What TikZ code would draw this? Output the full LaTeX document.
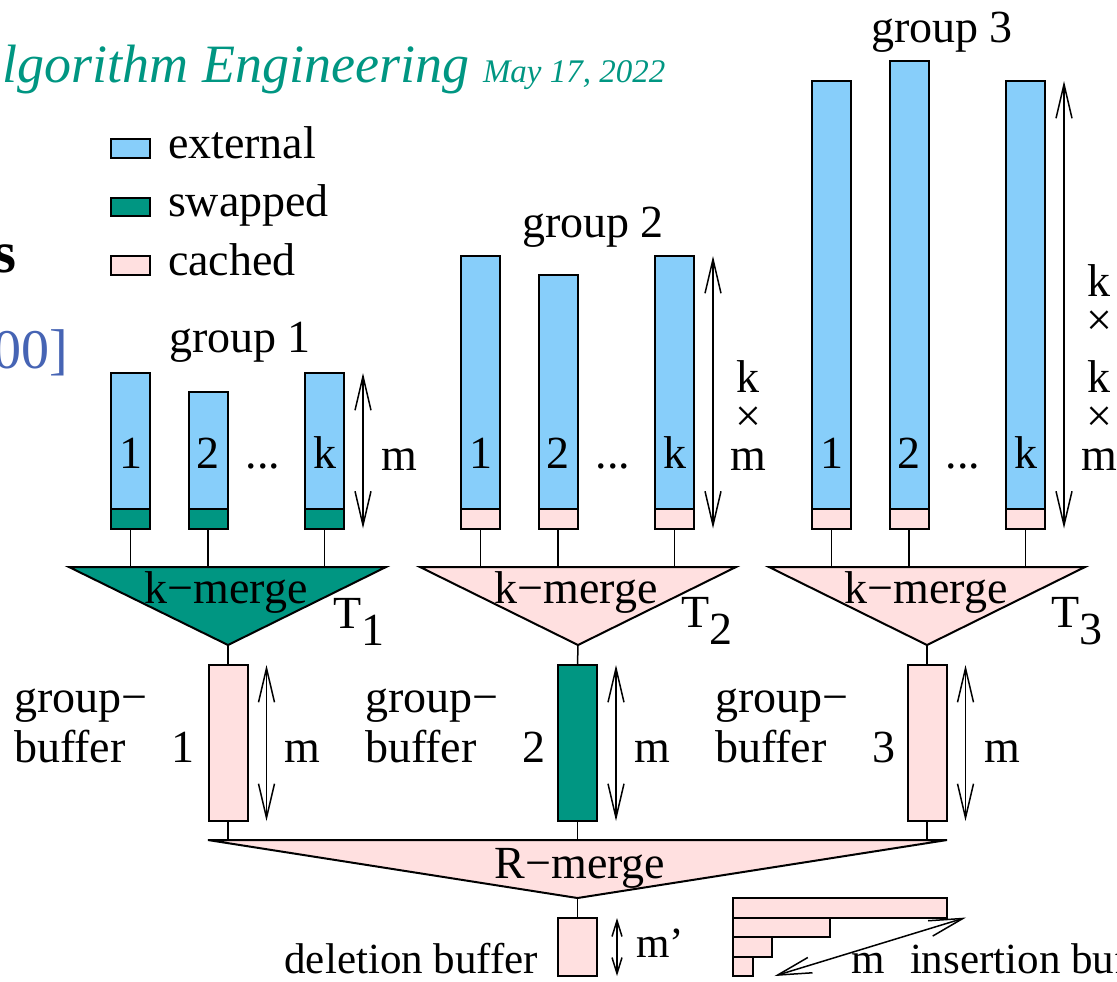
\documentclass[tikz,border=0pt]{standalone}
\usepackage{fontspec}
\setmainfont{Liberation Serif}
\usetikzlibrary{arrows.meta}
\definecolor{extblue}{RGB}{135,206,250}
\definecolor{swpgreen}{RGB}{0,150,130}
\definecolor{cchpink}{RGB}{255,224,224}
\definecolor{hdteal}{RGB}{0,150,130}
\definecolor{citeblue}{RGB}{70,100,180}

\begin{document}
\begin{tikzpicture}[
    x=0.5pt, y=-0.5pt,
    >={Straight Barb[length=17pt,width=8pt]},
    font=\fontsize{23}{25}\selectfont,
    inner sep=0pt, outer sep=0pt,
    ext/.style={draw, line width=1pt, fill=extblue, minimum width=19.5pt},
    swp/.style={draw, line width=1pt, fill=swpgreen, minimum width=19.5pt, minimum height=9.75pt},
    cch/.style={draw, line width=1pt, fill=cchpink, minimum width=19.5pt, minimum height=9.75pt},
    mrg/.style={draw, line width=1pt, line join=miter},
    wire/.style={line width=0.75pt},
    dim/.style={line width=0.75pt, <->},
    smalldim/.style={line width=0.75pt, {Straight Barb[length=8pt,width=5pt]}-{Straight Barb[length=8pt,width=5pt]}},
    stack/.style={align=center, anchor=south, font=\fontsize{23}{19.5}\selectfont},
    small/.style={font=\fontsize{21.5}{24}\selectfont},
    hdr/.style={text=hdteal, font=\fontsize{27}{30}\selectfont\itshape},
    hdrdate/.style={text=hdteal, font=\fontsize{16.5}{20}\selectfont\itshape}
]
\useasboundingbox (0,0) rectangle (1117,981);
\clip (0,0) rectangle (1117,981);

% slide header
\node[hdr, anchor=base east] (title) at (469,82) {lgorithm Engineering};
\node[hdrdate, anchor=base west] (date) at (483,82) {May 17, 2022};
\node[anchor=base east, font=\fontsize{29.5}{30}\selectfont\bfseries] (heaps) at (16,272) {s};
\node[anchor=base east, text=citeblue, font=\fontsize{28}{30}\selectfont] (cite) at (68,368) {00]};

% legend
\node[ext, minimum height=9.5pt] (lgext) at (130.5,148.5) {};
\node[swp, minimum height=9.25pt] (lgswp) at (130.5,207) {};
\node[cch, minimum height=9.5pt] (lgcch) at (130.5,265.5) {};
\node[anchor=base west] (txext) at (168,158) {external};
\node[anchor=base west] (txswp) at (168,216) {swapped};
\node[anchor=base west] (txcch) at (168,275) {cached};

% group 1
\node[anchor=base] (gr1) at (240,352) {group 1};
\node[ext, minimum height=68pt, anchor=south] (g1a) at (130.5,509) {};
\node[ext, minimum height=58.5pt, anchor=south] (g1b) at (208,509) {};
\node[ext, minimum height=68pt, anchor=south] (g1k) at (324.5,509) {};
\node[swp, anchor=north] (g1ab) at (g1a.south) {};
\node[swp, anchor=north] (g1bb) at (g1b.south) {};
\node[swp, anchor=north] (g1kb) at (g1k.south) {};
\node[anchor=base] (n1a) at (130.5,468) {1};
\node[anchor=base] (n1b) at (208,468) {2};
\node[anchor=base] (n1k) at (324.5,468) {k};
\node[anchor=base] (d1) at (263,468) {...};
\draw[dim] ([xshift=9.5pt]g1k.north east) -- ([xshift=9.5pt]g1kb.south east);
\node[anchor=base] (m1) at (399,470) {m};

\coordinate (t1l) at (69,567);
\coordinate (t1r) at (386,567);
\coordinate (t1b) at (228,645);
\draw[mrg, fill=swpgreen] (t1l) -- (t1r) -- (t1b) -- cycle;
\draw[wire] (g1ab.south) -- (g1ab.south |- t1l);
\draw[wire] (g1bb.south) -- (g1bb.south |- t1l);
\draw[wire] (g1kb.south) -- (g1kb.south |- t1l);
\node[anchor=base] (km1) at (226,603) {k−merge};
\node[anchor=base west] (T1) at (333,628) {T\raisebox{-0.37em}{1}};

\node[cch, minimum height=78pt, anchor=north] (gb1) at (228,665) {};
\draw[wire] (t1b) -- (gb1.north);
\draw[dim] ([xshift=9.5pt]gb1.north east) -- ([xshift=9.5pt]gb1.south east);
\node[anchor=base] (mb1) at (302,762) {m};
\node[anchor=base west] (gl1) at (14,712) {group−};
\node[anchor=base west] (bl1) at (14,762) {buffer\quad 1};

% group 2
\node[anchor=base] (gr2) at (593,237) {group 2};
\node[ext, minimum height=126.5pt, anchor=south] (g2a) at (480.5,509) {};
\node[ext, minimum height=117pt, anchor=south] (g2b) at (558,509) {};
\node[ext, minimum height=126.5pt, anchor=south] (g2k) at (674.5,509) {};
\node[cch, anchor=north] (g2ab) at (g2a.south) {};
\node[cch, anchor=north] (g2bb) at (g2b.south) {};
\node[cch, anchor=north] (g2kb) at (g2k.south) {};
\node[anchor=base] (n2a) at (480.5,468) {1};
\node[anchor=base] (n2b) at (558,468) {2};
\node[anchor=base] (n2k) at (674.5,468) {k};
\node[anchor=base] (d2) at (613,468) {...};
\draw[dim] ([xshift=9.5pt]g2k.north east) -- ([xshift=9.5pt]g2kb.south east);
\node[stack] (km2lbl) at (748,470) {k\\×\\m};

\coordinate (t2l) at (420,567);
\coordinate (t2r) at (736,567);
\coordinate (t2b) at (578,645);
\draw[mrg, fill=cchpink] (t2l) -- (t2r) -- (t2b) -- cycle;
\draw[wire] (g2ab.south) -- (g2ab.south |- t2l);
\draw[wire] (g2bb.south) -- (g2bb.south |- t2l);
\draw[wire] (g2kb.south) -- (g2kb.south |- t2l);
\node[anchor=base] (km2) at (576,603) {k−merge};
\node[anchor=base west] (T2) at (681,627) {T\raisebox{-0.37em}{2}};

\node[swp, minimum height=78pt, anchor=north] (gb2) at (577.5,665) {};
\draw[wire] (t2b) -- (gb2.north);
\draw[dim] ([xshift=9.5pt]gb2.north east) -- ([xshift=9.5pt]gb2.south east);
\node[anchor=base] (mb2) at (652,762) {m};
\node[anchor=base west] (gl2) at (365,712) {group−};
\node[anchor=base west] (bl2) at (365,762) {buffer\quad 2};

% group 3
\node[anchor=base] (gr3) at (942,42) {group 3};
\node[ext, minimum height=214pt, anchor=south] (g3a) at (831.5,509) {};
\node[ext, minimum height=224pt, anchor=south] (g3b) at (909,509) {};
\node[ext, minimum height=214pt, anchor=south] (g3k) at (1025.5,509) {};
\node[cch, anchor=north] (g3ab) at (g3a.south) {};
\node[cch, anchor=north] (g3bb) at (g3b.south) {};
\node[cch, anchor=north] (g3kb) at (g3k.south) {};
\node[anchor=base] (n3a) at (831.5,468) {1};
\node[anchor=base] (n3b) at (909,468) {2};
\node[anchor=base] (n3k) at (1025.5,468) {k};
\node[anchor=base] (d3) at (963,468) {...};
\draw[dim] ([xshift=9.5pt]g3k.north east) -- ([xshift=9.5pt]g3kb.south east);
\node[stack] (kkm3lbl) at (1099,470) {k\\×\\[9pt]k\\×\\m};

\coordinate (t3l) at (769,567);
\coordinate (t3r) at (1085,567);
\coordinate (t3b) at (927,645);
\draw[mrg, fill=cchpink] (t3l) -- (t3r) -- (t3b) -- cycle;
\draw[wire] (g3ab.south) -- (g3ab.south |- t3l);
\draw[wire] (g3bb.south) -- (g3bb.south |- t3l);
\draw[wire] (g3kb.south) -- (g3kb.south |- t3l);
\node[anchor=base] (km3) at (926,603) {k−merge};
\node[anchor=base west] (T3) at (1051,627) {T\raisebox{-0.37em}{3}};

\node[cch, minimum height=78pt, anchor=north] (gb3) at (927,665) {};
\draw[wire] (t3b) -- (gb3.north);
\draw[dim] ([xshift=9.5pt]gb3.north east) -- ([xshift=9.5pt]gb3.south east);
\node[anchor=base] (mb3) at (1002,762) {m};
\node[anchor=base west] (gl3) at (715,712) {group−};
\node[anchor=base west] (bl3) at (715,762) {buffer\quad 3};

% R-merge
\coordinate (rl) at (208,840);
\coordinate (rr) at (947,840);
\coordinate (rb) at (577.5,898);
\draw[mrg, fill=cchpink] (rl) -- (rr) -- (rb) -- cycle;
\draw[wire] (gb1.south) -- (gb1.south |- rl);
\draw[wire] (gb2.south) -- (gb2.south |- rl);
\draw[wire] (gb3.south) -- (gb3.south |- rl);
\node[anchor=base] (rm) at (580,878) {R−merge};

% deletion buffer
\node[cch, minimum height=29pt, anchor=north] (del) at (577.5,918) {};
\draw[wire] (rb) -- (del.north);
\draw[smalldim] ([xshift=10pt]del.north east) -- ([xshift=10pt]del.south east);
\node[small, anchor=base west] (mdel) at (636,957) {m’};
\node[small, anchor=base east] (tdel) at (538,973) {deletion buffer};

% insertion buffers
\node[cch, minimum width=107pt, anchor=north west] (ins1) at (733,898) {};
\node[cch, minimum width=48.5pt, anchor=north west] (ins2) at (ins1.south west) {};
\node[cch, minimum width=19.5pt, anchor=north west] (ins3) at (ins2.south west) {};
\node[cch, minimum width=9.75pt, anchor=north west] (ins4) at (ins3.south west) {};
\draw[dim] ([xshift=9.5pt]ins1.south east) -- ([xshift=11pt]ins4.south east);
\node[small, anchor=base west] (mins) at (851,973) {m};
\node[small, anchor=base west] (tins) at (910,973) {insertion buf};

\end{tikzpicture}
\end{document}
